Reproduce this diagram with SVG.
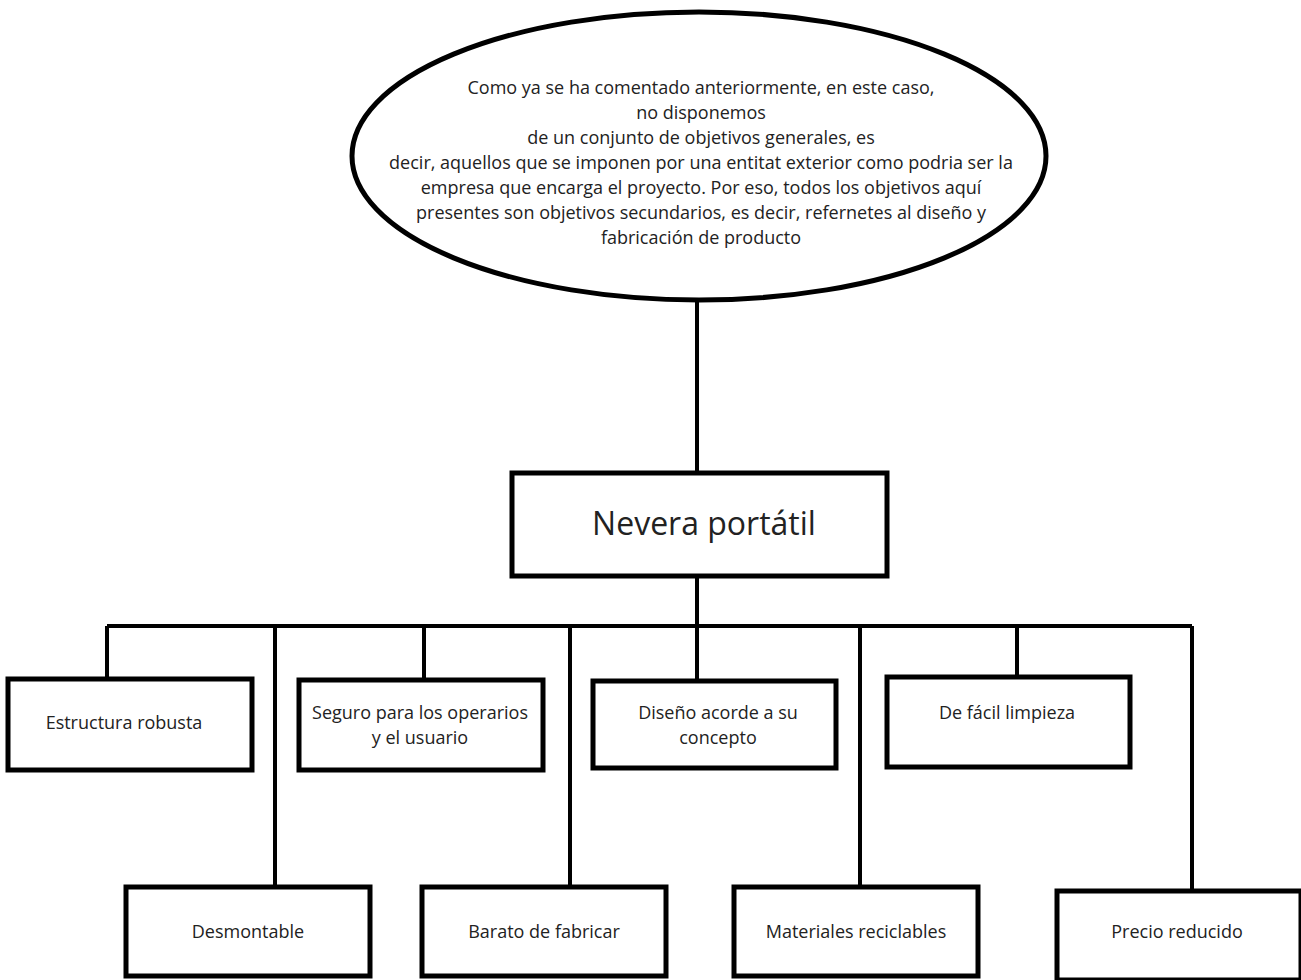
<svg xmlns="http://www.w3.org/2000/svg" width="1301" height="980" viewBox="0 0 1301 980">
<style>
.box{fill:#fff;stroke:#000;stroke-width:5}
.ln{fill:none;stroke:#000;stroke-width:4}
text{font-family:"Open Sans","Liberation Sans",sans-serif;fill:#222;text-anchor:middle;dominant-baseline:central}
.s{font-size:18px}
.big{font-size:32px}
</style>
<rect width="1301" height="980" fill="#fff"/>
<g id="connectors">
<path class="ln" d="M697,300 V473 M697,576 V626 M107,626 H1192 M107,626 V679 M275,626 V887 M424,626 V680 M570,626 V887 M697,626 V681 M860,626 V887 M1017,626 V677 M1192,626 V890"/>
</g>
<g id="n-ellipse">
<ellipse class="box" cx="699" cy="156" rx="347" ry="144"/>
<text class="s" x="701" y="87">Como ya se ha comentado anteriormente, en este caso,</text>
<text class="s" x="701" y="112">no disponemos</text>
<text class="s" x="701" y="137">de un conjunto de objetivos generales, es</text>
<text class="s" x="701" y="162">decir, aquellos que se imponen por una entitat exterior como podria ser la</text>
<text class="s" x="701" y="187">empresa que encarga el proyecto. Por eso, todos los objetivos aquí</text>
<text class="s" x="701" y="212">presentes son objetivos secundarios, es decir, refernetes al diseño y</text>
<text class="s" x="701" y="237">fabricación de producto</text>
</g>
<g id="n-nevera">
<rect class="box" x="512" y="473" width="375" height="103"/>
<text class="big" x="704" y="522">Nevera portátil</text>
</g>
<g id="n-estructura">
<rect class="box" x="8" y="679" width="244" height="91"/>
<text class="s" x="124" y="722">Estructura robusta</text>
</g>
<g id="n-seguro">
<rect class="box" x="299" y="680" width="244" height="90"/>
<text class="s" x="420" y="712">Seguro para los operarios</text>
<text class="s" x="420" y="737">y el usuario</text>
</g>
<g id="n-diseno">
<rect class="box" x="593" y="681" width="243" height="87"/>
<text class="s" x="718" y="712">Diseño acorde a su</text>
<text class="s" x="718" y="737">concepto</text>
</g>
<g id="n-limpieza">
<rect class="box" x="887" y="677" width="243" height="90"/>
<text class="s" x="1007" y="712">De fácil limpieza</text>
</g>
<g id="n-desmontable">
<rect class="box" x="126" y="887" width="244" height="89"/>
<text class="s" x="248" y="931">Desmontable</text>
</g>
<g id="n-barato">
<rect class="box" x="422" y="887" width="244" height="89"/>
<text class="s" x="544" y="931">Barato de fabricar</text>
</g>
<g id="n-materiales">
<rect class="box" x="734" y="887" width="244" height="89"/>
<text class="s" x="856" y="931">Materiales reciclables</text>
</g>
<g id="n-precio">
<rect class="box" x="1057" y="891" width="244" height="89"/>
<text class="s" x="1177" y="931">Precio reducido</text>
</g>
</svg>
